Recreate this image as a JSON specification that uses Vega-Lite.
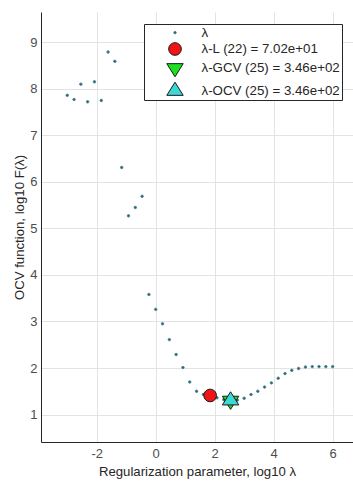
{
  "$schema": "https://vega.github.io/schema/vega-lite/v6.json",
  "width": 312,
  "height": 430,
  "autosize": {"type": "none"},
  "padding": {"left": 41, "top": 12, "right": 0, "bottom": 42},
  "background": "white",
  "data": {
    "values": [
      {"x": -3.000, "y": 7.86, "series": "λ"},
      {"x": -2.769, "y": 7.77, "series": "λ"},
      {"x": -2.538, "y": 8.10, "series": "λ"},
      {"x": -2.308, "y": 7.72, "series": "λ"},
      {"x": -2.077, "y": 8.15, "series": "λ"},
      {"x": -1.846, "y": 7.75, "series": "λ"},
      {"x": -1.615, "y": 8.79, "series": "λ"},
      {"x": -1.385, "y": 8.59, "series": "λ"},
      {"x": -1.154, "y": 6.31, "series": "λ"},
      {"x": -0.923, "y": 5.27, "series": "λ"},
      {"x": -0.692, "y": 5.45, "series": "λ"},
      {"x": -0.462, "y": 5.69, "series": "λ"},
      {"x": -0.231, "y": 3.58, "series": "λ"},
      {"x": 0.000, "y": 3.26, "series": "λ"},
      {"x": 0.231, "y": 2.95, "series": "λ"},
      {"x": 0.462, "y": 2.61, "series": "λ"},
      {"x": 0.692, "y": 2.29, "series": "λ"},
      {"x": 0.923, "y": 2.01, "series": "λ"},
      {"x": 1.154, "y": 1.70, "series": "λ"},
      {"x": 1.385, "y": 1.50, "series": "λ"},
      {"x": 1.615, "y": 1.43, "series": "λ"},
      {"x": 1.846, "y": 1.41, "series": "λ"},
      {"x": 2.077, "y": 1.36, "series": "λ"},
      {"x": 2.308, "y": 1.32, "series": "λ"},
      {"x": 2.538, "y": 1.30, "series": "λ"},
      {"x": 2.769, "y": 1.31, "series": "λ"},
      {"x": 3.000, "y": 1.35, "series": "λ"},
      {"x": 3.231, "y": 1.43, "series": "λ"},
      {"x": 3.462, "y": 1.50, "series": "λ"},
      {"x": 3.692, "y": 1.59, "series": "λ"},
      {"x": 3.923, "y": 1.68, "series": "λ"},
      {"x": 4.154, "y": 1.78, "series": "λ"},
      {"x": 4.385, "y": 1.88, "series": "λ"},
      {"x": 4.615, "y": 1.95, "series": "λ"},
      {"x": 4.846, "y": 1.99, "series": "λ"},
      {"x": 5.077, "y": 2.02, "series": "λ"},
      {"x": 5.308, "y": 2.03, "series": "λ"},
      {"x": 5.538, "y": 2.03, "series": "λ"},
      {"x": 5.769, "y": 2.03, "series": "λ"},
      {"x": 6.000, "y": 2.03, "series": "λ"},
      {"x": 1.846, "y": 1.41, "series": "λ-L (22) = 7.02e+01"},
      {"x": 2.539, "y": 1.30, "series": "λ-GCV (25) = 3.46e+02"},
      {"x": 2.539, "y": 1.30, "series": "λ-OCV (25) = 3.46e+02"}
    ]
  },
  "mark": {"type": "point", "filled": true, "strokeWidth": 1, "opacity": 1},
  "encoding": {
    "x": {
      "field": "x",
      "type": "quantitative",
      "scale": {"domain": [-3.89, 6.69], "nice": false, "zero": false},
      "axis": {"values": [-2, 0, 2, 4, 6], "title": "Regularization parameter, log10 λ"}
    },
    "y": {
      "field": "y",
      "type": "quantitative",
      "scale": {"domain": [0.41, 9.65], "nice": false, "zero": false},
      "axis": {"values": [1, 2, 3, 4, 5, 6, 7, 8, 9], "title": "OCV function, log10 F(λ)"}
    },
    "fill": {
      "field": "series",
      "type": "nominal",
      "title": null,
      "scale": {
        "domain": ["λ", "λ-L (22) = 7.02e+01", "λ-GCV (25) = 3.46e+02", "λ-OCV (25) = 3.46e+02"],
        "range": ["#2d5a66", "#f01414", "#1ee01e", "#3fd6d6"]
      }
    },
    "stroke": {
      "field": "series",
      "type": "nominal",
      "title": null,
      "scale": {
        "domain": ["λ", "λ-L (22) = 7.02e+01", "λ-GCV (25) = 3.46e+02", "λ-OCV (25) = 3.46e+02"],
        "range": ["#4a8a96", "#1a1a1a", "#1a1a1a", "#1a1a1a"]
      }
    },
    "shape": {
      "field": "series",
      "type": "nominal",
      "title": null,
      "scale": {
        "domain": ["λ", "λ-L (22) = 7.02e+01", "λ-GCV (25) = 3.46e+02", "λ-OCV (25) = 3.46e+02"],
        "range": ["circle", "circle", "M-1,-0.53L1,-0.53L0,1.07Z", "M-1,0.53L1,0.53L0,-1.07Z"]
      }
    },
    "size": {
      "field": "series",
      "type": "nominal",
      "title": null,
      "scale": {
        "type": "ordinal",
        "domain": ["λ", "λ-L (22) = 7.02e+01", "λ-GCV (25) = 3.46e+02", "λ-OCV (25) = 3.46e+02"],
        "range": [6, 160, 270, 270]
      }
    }
  },
  "config": {
    "view": {"stroke": null},
    "font": "Liberation Sans",
    "axis": {
      "domainColor": "#262626",
      "domainWidth": 1,
      "ticks": false,
      "gridColor": "#e3e3e3",
      "gridWidth": 1,
      "labelColor": "#4d4d4d",
      "labelFont": "Liberation Sans",
      "labelFontSize": 13,
      "labelExpr": "replace(datum.label, '−', '-')",
      "titleFont": "Liberation Sans",
      "titleFontSize": 13.2,
      "titleFontWeight": "normal",
      "titleColor": "#262626"
    },
    "axisX": {"labelPadding": 5, "titlePadding": 5},
    "axisY": {"labelPadding": 4, "titlePadding": 3},
    "legend": {
      "orient": "none",
      "legendX": 103,
      "legendY": 12,
      "fillColor": "white",
      "strokeColor": "#262626",
      "padding": 2,
      "symbolOffset": 20,
      "labelOffset": 17.5,
      "labelFont": "Liberation Sans",
      "labelFontSize": 13.3,
      "labelColor": "#262626",
      "labelLimit": 300,
      "symbolStrokeWidth": 1,
      "rowPadding": 1
    }
  }
}
